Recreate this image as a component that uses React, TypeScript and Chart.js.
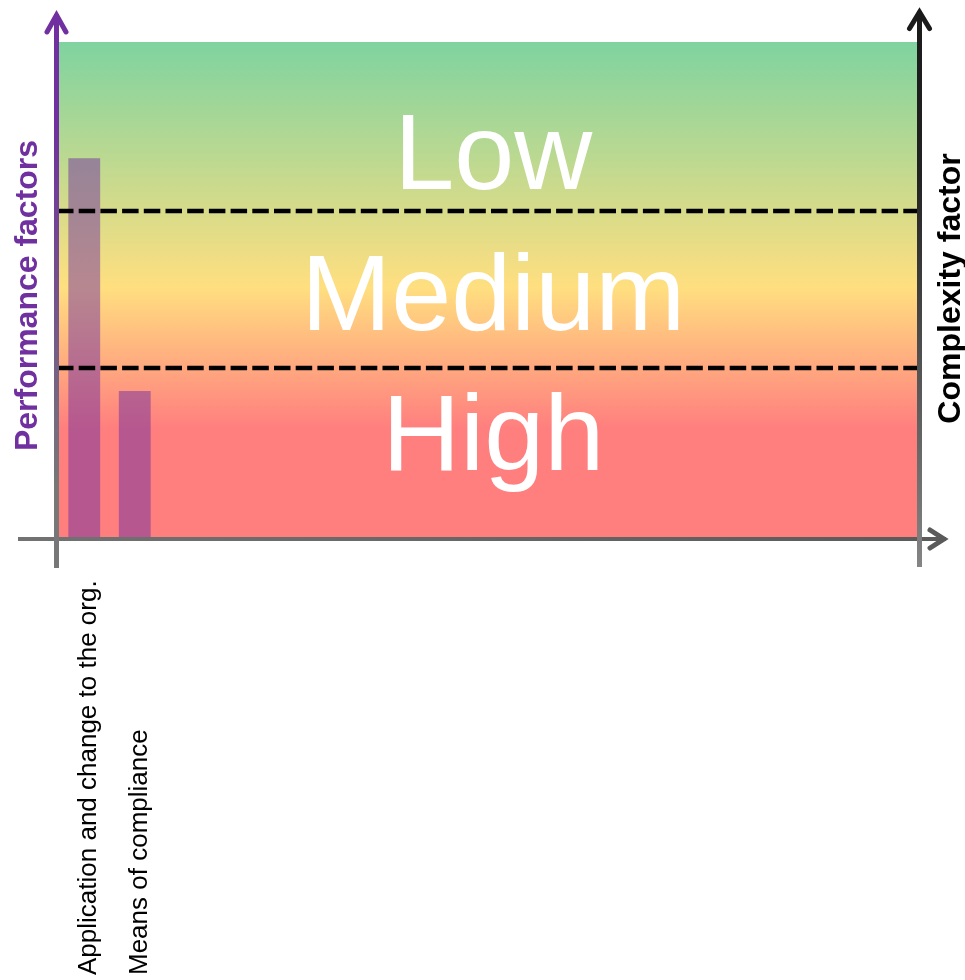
import React, { useEffect, useRef } from "react";
import { Chart, registerables } from "chart.js";

Chart.register(...registerables);

// ---- data ----
const categories = ["Application and change to the org.", "Means of compliance"];
const scoreValues = [76.5, 29.5];
const slotCount = 17;
const yMin = 0;
const yMax = 100;
const zoneBounds = [34.2, 65.9];
const zoneNames = ["Low", "Medium", "High"];
const zoneLabelValues = [78.1, 49.6, 21.3];
const leftTitle = "Performance factors";
const rightTitle = "Complexity factor";

const FONT = '"Liberation Sans", Arial, Helvetica, sans-serif';
const PURPLE = "#7030A0";

const labels = Array.from({ length: slotCount }, (_, i) => categories[i] ?? "");
const values = labels.map((_, i) => (scoreValues[i] !== undefined ? scoreValues[i] : null));

function drawChevron(ctx: CanvasRenderingContext2D, pts: number[][], color: string | CanvasGradient, w: number) {
  ctx.save();
  ctx.strokeStyle = color;
  ctx.lineWidth = w;
  ctx.lineCap = "round";
  ctx.lineJoin = "miter";
  ctx.beginPath();
  ctx.moveTo(pts[0][0], pts[0][1]);
  ctx.lineTo(pts[1][0], pts[1][1]);
  ctx.lineTo(pts[2][0], pts[2][1]);
  ctx.stroke();
  ctx.restore();
}

const decorPlugin = {
  id: "decor",
  beforeDatasetsDraw(chart: any) {
    const { ctx, chartArea: a } = chart;
    ctx.save();
    const g = ctx.createLinearGradient(0, a.top, 0, a.bottom);
    g.addColorStop(0, "#7FD3A0");
    g.addColorStop(0.495, "#FFDF80");
    g.addColorStop(0.78, "#FF7F7F");
    g.addColorStop(1, "#FF7F7F");
    ctx.fillStyle = g;
    ctx.fillRect(a.left, a.top, a.right - a.left, a.bottom - a.top);
    ctx.restore();
  },
  afterDatasetsDraw(chart: any) {
    const { ctx, chartArea: a } = chart;
    const y = chart.scales.y;
    ctx.save();
    ctx.strokeStyle = "#000";
    ctx.lineWidth = 4.5;
    ctx.setLineDash([16.5, 5.2]);
    zoneBounds.forEach((v) => {
      const py = Math.round(y.getPixelForValue(v));
      ctx.beginPath();
      ctx.moveTo(a.left - 2, py);
      ctx.lineTo(a.right + 1, py);
      ctx.stroke();
    });
    ctx.setLineDash([]);
    const size = 108;
    ctx.font = `${size}px ${FONT}`;
    ctx.fillStyle = "#fff";
    ctx.textAlign = "center";
    ctx.textBaseline = "alphabetic";
    const cx = (a.left + a.right) / 2 + 5;
    zoneNames.forEach((name, i) => {
      const py = y.getPixelForValue(zoneLabelValues[i]) + size * 0.358;
      ctx.fillText(name, cx, py);
    });
    ctx.restore();
  },
  afterDraw(chart: any) {
    const { ctx, chartArea: a } = chart;
    const xs = chart.scales.x;
    ctx.save();
    // x axis
    const axY = a.bottom + 2;
    const gx = ctx.createLinearGradient(18, 0, 950, 0);
    gx.addColorStop(0, "#727272");
    gx.addColorStop(1, "#5a5a5a");
    ctx.strokeStyle = gx;
    ctx.lineWidth = 4;
    ctx.beginPath();
    ctx.moveTo(18, axY);
    ctx.lineTo(946, axY);
    ctx.stroke();
    drawChevron(ctx, [[930, axY - 9], [944, axY], [930, axY + 9]], "#5a5a5a", 5);

    // left axis
    const lx = a.left - 2.5;
    const gl = ctx.createLinearGradient(0, 10, 0, 568);
    gl.addColorStop(0, PURPLE);
    gl.addColorStop(0.2, PURPLE);
    gl.addColorStop(0.85, "#777777");
    gl.addColorStop(1, "#777777");
    ctx.strokeStyle = gl;
    ctx.lineWidth = 5;
    ctx.beginPath();
    ctx.moveTo(lx, 14);
    ctx.lineTo(lx, 568);
    ctx.stroke();
    drawChevron(ctx, [[lx - 9.5, 32], [lx, 15], [lx + 9.5, 32]], PURPLE, 5);

    // right axis
    const rx = a.right + 2;
    const gr = ctx.createLinearGradient(0, 8, 0, 567);
    gr.addColorStop(0, "#1a1a1a");
    gr.addColorStop(0.3, "#222222");
    gr.addColorStop(1, "#858585");
    ctx.strokeStyle = gr;
    ctx.lineWidth = 5;
    ctx.beginPath();
    ctx.moveTo(rx, 11);
    ctx.lineTo(rx, 567);
    ctx.stroke();
    drawChevron(ctx, [[rx - 10, 28.5], [rx, 12], [rx + 10, 28.5]], "#1a1a1a", 5);

    // category labels (rotated, anchored at the bottom)
    ctx.fillStyle = "#000";
    ctx.font = `26px ${FONT}`;
    ctx.textAlign = "left";
    ctx.textBaseline = "alphabetic";
    labels.forEach((lab, i) => {
      if (!lab) return;
      const px = xs.getPixelForValue(i) + 12;
      ctx.save();
      ctx.translate(px, 975);
      ctx.rotate(-Math.PI / 2);
      ctx.fillText(lab, 0, 0);
      ctx.restore();
    });

    // axis titles
    ctx.font = `bold 32px ${FONT}`;
    ctx.textAlign = "center";
    ctx.fillStyle = PURPLE;
    ctx.save();
    ctx.translate(37, 295.5);
    ctx.rotate(-Math.PI / 2);
    ctx.fillText(leftTitle, 0, 0);
    ctx.restore();

    ctx.fillStyle = "#000";
    ctx.save();
    ctx.translate(960, 288.5);
    ctx.rotate(-Math.PI / 2);
    ctx.fillText(rightTitle, 0, 0);
    ctx.restore();

    ctx.restore();
  },
};

export default function App() {
  const ref = useRef<HTMLCanvasElement | null>(null);
  useEffect(() => {
    if (!ref.current) return;
    const chart = new Chart(ref.current, {
      type: "bar",
      data: {
        labels,
        datasets: [
          {
            data: values as any,
            backgroundColor: "rgba(112,48,160,0.5)",
            borderWidth: 0,
            categoryPercentage: 1,
            barPercentage: 0.63,
          },
        ],
      },
      options: {
        responsive: false,
        animation: false,
        layout: { padding: { left: 59, right: 47.5, top: 42, bottom: 443 } },
        plugins: { legend: { display: false }, tooltip: { enabled: false } },
        scales: {
          x: { display: false },
          y: { display: false, min: yMin, max: yMax },
        },
      },
      plugins: [decorPlugin],
    });
    return () => chart.destroy();
  }, []);
  return (
    <div style={{ position: "absolute", left: 0, top: 0, width: 965, height: 980 }}>
      <canvas ref={ref} width={965} height={980} style={{ display: "block" }} />
    </div>
  );
}
